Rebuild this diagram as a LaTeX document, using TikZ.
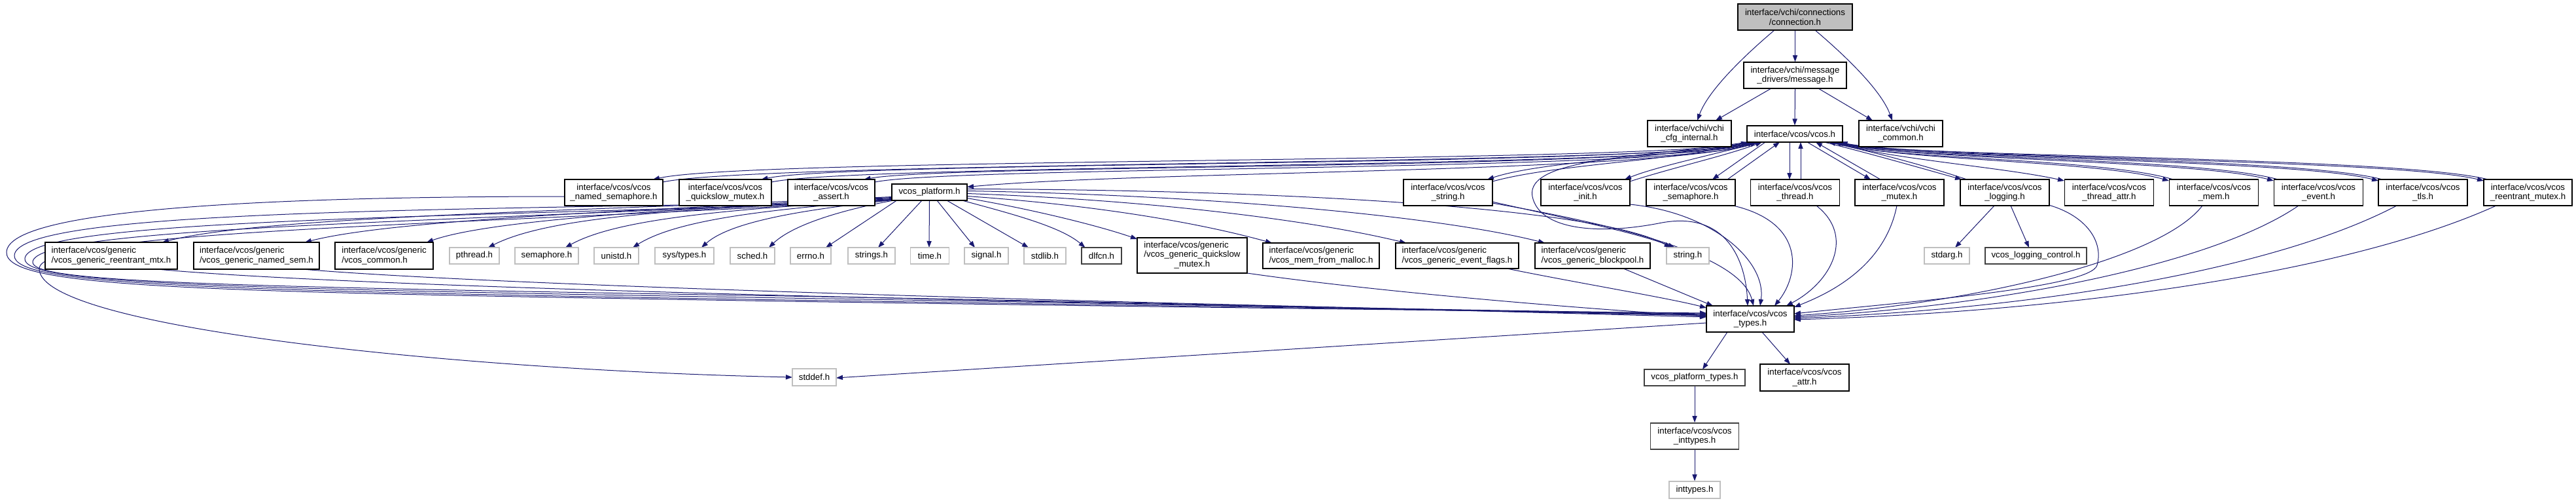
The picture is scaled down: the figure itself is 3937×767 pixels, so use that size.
\documentclass[tikz,border=0pt]{standalone}
\usepackage{fontspec}
\setmainfont{Liberation Sans}
\usetikzlibrary{arrows.meta}
\definecolor{edgec}{HTML}{191970}
\definecolor{gborder}{HTML}{BFBFBF}
\definecolor{dborder}{HTML}{404040}
\definecolor{cfill}{HTML}{BFBFBF}
\pgfdeclarelayer{bg}
\pgfsetlayers{bg,main}
\begin{document}
\begin{tikzpicture}[x=0.5pt,y=-0.5pt,
  font=\fontsize{6.65}{7.35}\selectfont,
  box/.style={draw=black, line width=0.6pt, fill=white, inner sep=0pt, align=center},
  gbox/.style={box, draw=gborder},
  dbox/.style={box, draw=dborder, line width=0.9pt},
  lbox/.style={box, align=left},
  sz/.style 2 args={minimum width={#1*0.5pt}, minimum height={#2*0.5pt}},
  edge/.style={draw=edgec, line width=0.5pt, -{Triangle[length=5pt,width=3.6pt]}}]
\useasboundingbox (0,0) rectangle (3937,767);
% ---------- nodes ----------
\node[box, fill=cfill, sz={175}{40}] (conn) at (2743.5,26) {interface/vchi/connections\\/connection.h};
\node[box, sz={157}{40}] (msg) at (2743.5,115) {interface/vchi/message\\\_drivers/message.h};
\node[box, sz={128}{40}] (cfg) at (2582,204) {interface/vchi/vchi\\\_cfg\_internal.h};
\node[box, sz={146}{25}] (vcos) at (2743,204.5) {interface/vcos/vcos.h};
\node[box, sz={128}{40}] (vchic) at (2905,204) {interface/vchi/vchi\\\_common.h};
% row 2
\node[box, sz={150}{40}] (namedsem) at (938,294) {interface/vcos/vcos\\\_named\_semaphore.h};
\node[box, sz={141}{40}] (qsmutex) at (1108.5,294) {interface/vcos/vcos\\\_quickslow\_mutex.h};
\node[box, sz={133}{40}] (vassert) at (1270.5,294) {interface/vcos/vcos\\\_assert.h};
\node[box, sz={115}{25}] (platform) at (1420.5,293.5) {vcos\_platform.h};
\node[box, sz={136}{40}] (vstring) at (2213,294) {interface/vcos/vcos\\\_string.h};
\node[box, sz={136}{40}] (vinit) at (2423,294) {interface/vcos/vcos\\\_init.h};
\node[box, sz={136}{40}] (vsem) at (2584,294) {interface/vcos/vcos\\\_semaphore.h};
\node[box, sz={136}{40}] (vthread) at (2743.5,294) {interface/vcos/vcos\\\_thread.h};
\node[box, sz={136}{40}] (vmutex) at (2903,294) {interface/vcos/vcos\\\_mutex.h};
\node[box, sz={136}{40}] (vlogging) at (3064,294) {interface/vcos/vcos\\\_logging.h};
\node[box, sz={136}{40}] (vtattr) at (3223.5,294) {interface/vcos/vcos\\\_thread\_attr.h};
\node[box, sz={136}{40}] (vmem) at (3383.5,294) {interface/vcos/vcos\\\_mem.h};
\node[box, sz={136}{40}] (vevent) at (3543.5,294) {interface/vcos/vcos\\\_event.h};
\node[box, sz={136}{40}] (vtls) at (3703,294) {interface/vcos/vcos\\\_tls.h};
\node[box, sz={135}{40}] (vrmutex) at (3863.5,294) {interface/vcos/vcos\\\_reentrant\_mutex.h};
% row 3
\node[lbox, sz={202}{41}] (grmtx) at (170,390.5) {interface/vcos/generic\\/vcos\_generic\_reentrant\_mtx.h};
\node[lbox, sz={192}{41}] (gnsem) at (392,390.5) {interface/vcos/generic\\/vcos\_generic\_named\_sem.h};
\node[lbox, sz={150}{41}] (gcommon) at (587,390.5) {interface/vcos/generic\\/vcos\_common.h};
\node[gbox, sz={76}{25}] (pthreadh) at (725,390.5) {pthread.h};
\node[gbox, sz={97}{25}] (semaphoreh) at (835.5,390.5) {semaphore.h};
\node[gbox, sz={68}{25}] (unistdh) at (942,390.5) {unistd.h};
\node[gbox, sz={90}{25}] (systypesh) at (1046,390.5) {sys/types.h};
\node[gbox, sz={68}{25}] (schedh) at (1150,390.5) {sched.h};
\node[gbox, sz={62}{25}] (errnoh) at (1239,390.5) {errno.h};
\node[gbox, sz={72}{25}] (stringsh) at (1332,390.5) {strings.h};
\node[gbox, sz={59}{25}] (timeh) at (1421,390.5) {time.h};
\node[gbox, sz={67}{25}] (signalh) at (1507.5,390.5) {signal.h};
\node[gbox, sz={64}{25}] (stdlibh) at (1597,390.5) {stdlib.h};
\node[dbox, sz={61}{25}] (dlfcnh) at (1683.5,390.5) {dlfcn.h};
\node[box, sz={168}{54}] (gqsm) at (1822,390) {\begin{tabular}{@{}l@{}}interface/vcos/generic\\/vcos\_generic\_quickslow\\\multicolumn{1}{@{}c@{}}{\_mutex.h}\end{tabular}};
\node[lbox, sz={178}{39}] (gmalloc) at (2019,390.5) {interface/vcos/generic\\/vcos\_mem\_from\_malloc.h};
\node[lbox, sz={188}{39}] (gevflags) at (2227,390.5) {interface/vcos/generic\\/vcos\_generic\_event\_flags.h};
\node[lbox, sz={176}{39}] (gblock) at (2434,390.5) {interface/vcos/generic\\/vcos\_generic\_blockpool.h};
\node[gbox, sz={65}{25}] (stringh) at (2579.5,390.5) {string.h};
\node[gbox, sz={69}{25}] (stdargh) at (2975.5,390.5) {stdarg.h};
\node[dbox, sz={155}{25}] (logctl) at (3111.5,390.5) {vcos\_logging\_control.h};
% row 4 and below
\node[box, sz={134}{40}] (vtypes) at (2675,487) {interface/vcos/vcos\\\_types.h};
\node[gbox, sz={67}{26}] (stddefh) at (1244.5,576) {stddef.h};
\node[dbox, sz={154}{25}] (ptypes) at (2590,576.5) {vcos\_platform\_types.h};
\node[box, sz={136}{41}] (vattr) at (2758,576.5) {interface/vcos/vcos\\\_attr.h};
\node[dbox, sz={135}{40}] (vinttypes) at (2590,666) {interface/vcos/vcos\\\_inttypes.h};
\node[gbox, sz={78}{26}] (inttypesh) at (2590,748) {inttypes.h};
% ---------- edges ----------
\begin{pgfonlayer}{bg}
% top
\draw[edge] ([shift={(-31.5,20)}]conn.center) .. controls (2660,90) and (2610,140) .. ([shift={(12,-20)}]cfg.center);
\draw[edge] (conn.south) -- (msg.north);
\draw[edge] ([shift={(30.5,20)}]conn.center) .. controls (2826,90) and (2876,140) .. ([shift={(-13,-20)}]vchic.center);
\draw[edge] ([shift={(-36.5,20)}]msg.center) -- ([shift={(40,-20)}]cfg.center);
\draw[edge] (msg.south) -- (vcos.north);
\draw[edge] ([shift={(35.5,20)}]msg.center) -- ([shift={(-43,-20)}]vchic.center);
% vcos <-> row 2 right
\draw[edge] ([shift={(-70,12.5)}]vcos.center) .. controls (2560,240) and (2360,245) .. ([shift={(60,-20)}]vstring.center);
\draw[edge] ([shift={(68,-17)}]vstring.center) .. controls (2380,250) and (2560,246) .. ([shift={(-72,12.5)}]vcos.center);
\draw[edge] ([shift={(-52,12.5)}]vcos.center) .. controls (2610,238) and (2530,255) .. ([shift={(60,-20)}]vinit.center);
\draw[edge] ([shift={(68,-17)}]vinit.center) .. controls (2560,255) and (2640,237) .. ([shift={(-50,12.5)}]vcos.center);
\draw[edge] ([shift={(-45,12.5)}]vcos.center) -- ([shift={(33,-20)}]vsem.center);
\draw[edge] ([shift={(56,-20)}]vsem.center) -- ([shift={(-23,12.5)}]vcos.center);
\draw[edge] ([shift={(-8,12.5)}]vcos.center) -- ([shift={(-8.5,-20)}]vthread.center);
\draw[edge] ([shift={(8.5,-20)}]vthread.center) -- ([shift={(9,12.5)}]vcos.center);
\draw[edge] ([shift={(19,12.5)}]vcos.center) -- ([shift={(-44,-20)}]vmutex.center);
\draw[edge] ([shift={(-29,-20)}]vmutex.center) -- ([shift={(32,12.5)}]vcos.center);
\draw[edge] ([shift={(45,12.5)}]vcos.center) .. controls (2860,235) and (2930,255) .. ([shift={(-66,-20)}]vlogging.center);
\draw[edge] ([shift={(-58,-20)}]vlogging.center) .. controls (2940,252) and (2870,234) .. ([shift={(52,12.5)}]vcos.center);
\draw[edge] ([shift={(57,12.5)}]vcos.center) .. controls (2880,242) and (3060,255) .. ([shift={(-68.5,-18)}]vtattr.center);
\draw[edge] ([shift={(60,12.5)}]vcos.center) .. controls (2880,245) and (3200,244) .. ([shift={(-68.5,-18)}]vmem.center);
\draw[edge] ([shift={(-62,-20)}]vmem.center) .. controls (3210,241) and (2882,243) .. ([shift={(61.5,12.5)}]vcos.center);
\draw[edge] ([shift={(63,12.5)}]vcos.center) .. controls (2885,244) and (3350,243) .. ([shift={(-68.5,-18)}]vevent.center);
\draw[edge] ([shift={(-62,-20)}]vevent.center) .. controls (3360,240) and (2887,242) .. ([shift={(64.5,12.5)}]vcos.center);
\draw[edge] ([shift={(66,12.5)}]vcos.center) .. controls (2890,243) and (3500,242) .. ([shift={(-68,-18)}]vtls.center);
\draw[edge] ([shift={(-62,-20)}]vtls.center) .. controls (3510,239) and (2892,241) .. ([shift={(67.5,12.5)}]vcos.center);
\draw[edge] ([shift={(69,12.5)}]vcos.center) .. controls (2895,242) and (3650,241) .. ([shift={(-67.5,-18)}]vrmutex.center);
\draw[edge] ([shift={(-61,-20)}]vrmutex.center) .. controls (3660,238) and (2897,240) .. ([shift={(70.5,12.5)}]vcos.center);
% vcos <-> row 2 left
\draw[edge] ([shift={(-68,12.5)}]vcos.center) .. controls (2560,250) and (1150,240) .. ([shift={(60,-20)}]namedsem.center);
\draw[edge] ([shift={(75,-16)}]namedsem.center) .. controls (1160,246) and (2570,252) .. ([shift={(-66,12.5)}]vcos.center);
\draw[edge] ([shift={(-64,12.5)}]vcos.center) .. controls (2560,255) and (1300,245) .. ([shift={(55,-20)}]qsmutex.center);
\draw[edge] ([shift={(70.5,-16)}]qsmutex.center) .. controls (1310,250) and (2570,257) .. ([shift={(-62,12.5)}]vcos.center);
\draw[edge] ([shift={(-60,12.5)}]vcos.center) .. controls (2560,260) and (1450,250) .. ([shift={(50,-20)}]vassert.center);
\draw[edge] ([shift={(66.5,-16)}]vassert.center) .. controls (1460,253) and (2570,262) .. ([shift={(-58,12.5)}]vcos.center);
\draw[edge] ([shift={(-56,12.5)}]vcos.center) .. controls (2560,265) and (1750,260) .. ([shift={(57.5,-8)}]platform.center);
% vcos -> types (loop around init)
\draw[edge] ([shift={(-72,12.5)}]vcos.center) .. controls (2520,240) and (2330,240) .. (2342,300)
   .. controls (2352,350) and (2440,360) .. (2540,340) .. controls (2640,322) and (2668,400) .. ([shift={(-4,-20)}]vtypes.center);
% row 2 -> types
\draw[edge] ([shift={(67.5,16)}]vstring.center) .. controls (2480,345) and (2660,390) .. ([shift={(5,-20)}]vtypes.center);
\draw[edge] ([shift={(68,18)}]vinit.center) .. controls (2620,325) and (2700,400) .. ([shift={(15,-20)}]vtypes.center);
\draw[edge] ([shift={(65,20)}]vsem.center) .. controls (2760,340) and (2750,420) .. ([shift={(37,-20)}]vtypes.center);
\draw[edge] ([shift={(32.5,20)}]vthread.center) .. controls (2835,360) and (2800,430) .. ([shift={(55,-20)}]vtypes.center);
\draw[edge] ([shift={(-4,20)}]vmutex.center) .. controls (2880,410) and (2790,450) .. ([shift={(67,-18)}]vtypes.center);
\draw[edge] ([shift={(67,19)}]vlogging.center) .. controls (3190,330) and (3215,370) .. (3205,405)
   .. controls (3195,440) and (2900,462) .. ([shift={(67,-8)}]vtypes.center);
\draw[edge] ([shift={(-17.5,20)}]vmem.center) .. controls (3300,400) and (3000,465) .. ([shift={(67,-5)}]vtypes.center);
\draw[edge] ([shift={(-30.5,20)}]vevent.center) .. controls (3380,405) and (3050,468) .. ([shift={(67,-3)}]vtypes.center);
\draw[edge] ([shift={(-40,20)}]vtls.center) .. controls (3470,415) and (3100,472) .. ([shift={(67,-1)}]vtypes.center);
\draw[edge] ([shift={(-48.5,20)}]vrmutex.center) .. controls (3580,420) and (3150,476) .. ([shift={(67,1)}]vtypes.center);
% row 3 -> types
\draw[edge] ([shift={(70,20.5)}]grmtx.center) .. controls (600,445) and (2000,470) .. ([shift={(-67,-8)}]vtypes.center);
\draw[edge] ([shift={(70,20.5)}]gnsem.center) .. controls (800,440) and (2000,470) .. ([shift={(-67,-6)}]vtypes.center);
\draw[edge] ([shift={(84,27)}]gqsm.center) .. controls (2100,445) and (2400,470) .. ([shift={(-67,-4)}]vtypes.center);
\draw[edge] ([shift={(76,19.5)}]gevflags.center) .. controls (2400,430) and (2550,455) .. ([shift={(-67,-17)}]vtypes.center);
\draw[edge] ([shift={(47,19.5)}]gblock.center) -- ([shift={(-57,-20)}]vtypes.center);
% loops around the far left
\draw[edge] ([shift={(-75,6)}]namedsem.center) .. controls (400,300) and (12,320) .. (10,385)
   .. controls (8,440) and (300,445) .. (1200,460) .. controls (2000,472) and (2400,476) .. ([shift={(-67,-9)}]vtypes.center);
\draw[edge] ([shift={(-70,19)}]qsmutex.center) .. controls (500,322) and (25,330) .. (22,390)
   .. controls (20,435) and (300,443) .. (1200,458) .. controls (2000,470) and (2400,477) .. ([shift={(-67,-7)}]vtypes.center);
\draw[edge] ([shift={(-66,19)}]vassert.center) .. controls (600,333) and (40,338) .. (38,395)
   .. controls (36,432) and (300,440) .. (1200,455) .. controls (2000,468) and (2400,478) .. ([shift={(-67,-5)}]vtypes.center);
\draw[edge] ([shift={(-57,10)}]platform.center) .. controls (700,340) and (52,345) .. (50,400)
   .. controls (48,430) and (300,437) .. (1200,452) .. controls (2000,466) and (2400,479) .. ([shift={(-67,-3)}]vtypes.center);
\draw[edge] ([shift={(-57,12)}]platform.center) .. controls (750,343) and (62,350) .. (60,410)
   .. controls (58,500) and (700,565) .. ([shift={(-33.5,0)}]stddefh.center);
% platform -> row 3
\draw[edge] ([shift={(-57,7)}]platform.center) .. controls (900,322) and (400,330) .. ([shift={(78,-20.5)}]grmtx.center);
\draw[edge] ([shift={(-57,8)}]platform.center) .. controls (1000,320) and (600,335) .. ([shift={(74,-20.5)}]gnsem.center);
\draw[edge] ([shift={(-57,9)}]platform.center) .. controls (1050,318) and (750,335) .. ([shift={(65,-20.5)}]gcommon.center);
\draw[edge] ([shift={(-57,11)}]platform.center) .. controls (1100,318) and (850,325) .. ([shift={(21,-12.5)}]pthreadh.center);
\draw[edge] ([shift={(-57,11)}]platform.center) .. controls (1150,318) and (950,330) .. ([shift={(28.5,-12.5)}]semaphoreh.center);
\draw[edge] ([shift={(-57,11.5)}]platform.center) .. controls (1200,318) and (1040,332) .. ([shift={(25,-12.5)}]unistdh.center);
\draw[edge] ([shift={(-57,12)}]platform.center) .. controls (1250,318) and (1120,335) .. ([shift={(26,-12.5)}]systypesh.center);
\draw[edge] ([shift={(-55,12.5)}]platform.center) .. controls (1300,318) and (1215,340) .. ([shift={(25,-12.5)}]schedh.center);
\draw[edge] ([shift={(-50,12.5)}]platform.center) -- ([shift={(23,-12.5)}]errnoh.center);
\draw[edge] ([shift={(-11.5,12.5)}]platform.center) -- ([shift={(10,-12.5)}]stringsh.center);
\draw[edge] ([shift={(0,12.5)}]platform.center) -- ([shift={(-1,-12.5)}]timeh.center);
\draw[edge] ([shift={(11.5,12.5)}]platform.center) -- ([shift={(-17.5,-12.5)}]signalh.center);
\draw[edge] ([shift={(26.5,12.5)}]platform.center) -- ([shift={(-25,-12.5)}]stdlibh.center);
\draw[edge] ([shift={(50,12.5)}]platform.center) .. controls (1540,325) and (1620,345) .. ([shift={(-25,-12.5)}]dlfcnh.center);
\draw[edge] ([shift={(57.5,9)}]platform.center) .. controls (1580,320) and (1680,345) .. ([shift={(-84,-25)}]gqsm.center);
\draw[edge] ([shift={(57.5,6)}]platform.center) .. controls (1700,315) and (1850,345) .. ([shift={(-75,-19.5)}]gmalloc.center);
\draw[edge] ([shift={(57.5,2)}]platform.center) .. controls (1750,305) and (2000,335) .. ([shift={(-78,-19.5)}]gevflags.center);
\draw[edge] ([shift={(57.5,-2)}]platform.center) .. controls (1850,298) and (2200,330) .. ([shift={(-73,-19.5)}]gblock.center);
\draw[edge] ([shift={(57.5,-5)}]platform.center) .. controls (2000,290) and (2450,320) .. ([shift={(-26,-12.5)}]stringh.center);
% others
\draw[edge] ([shift={(67.5,14)}]vstring.center) .. controls (2400,335) and (2500,355) .. ([shift={(-20,-12.5)}]stringh.center);
\draw[edge] ([shift={(-16,20)}]vlogging.center) -- ([shift={(12.5,-12.5)}]stdargh.center);
\draw[edge] ([shift={(9,20)}]vlogging.center) -- ([shift={(-10.5,-12.5)}]logctl.center);
\draw[edge] ([shift={(-67,6)}]vtypes.center) -- ([shift={(33.5,1)}]stddefh.center);
\draw[edge] ([shift={(-35,20)}]vtypes.center) -- ([shift={(12,-12.5)}]ptypes.center);
\draw[edge] ([shift={(18,20)}]vtypes.center) -- ([shift={(-22,-20.5)}]vattr.center);
\draw[edge] (ptypes.south) -- (vinttypes.north);
\draw[edge] (vinttypes.south) -- (inttypesh.north);
\end{pgfonlayer}
\end{tikzpicture}
\end{document}
